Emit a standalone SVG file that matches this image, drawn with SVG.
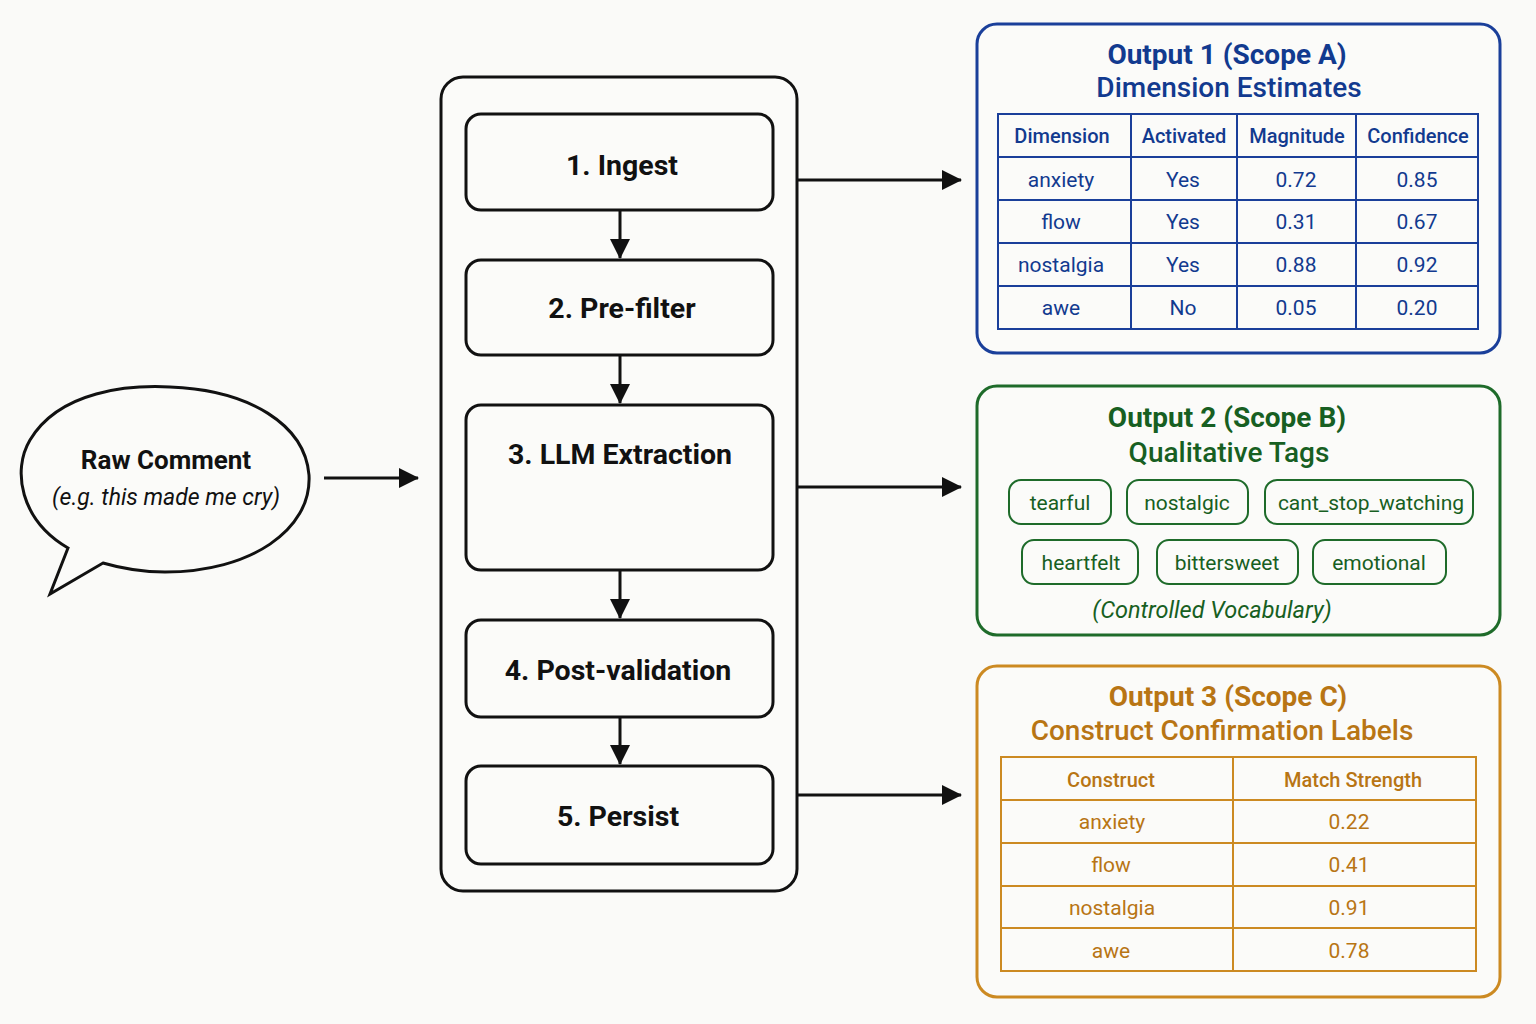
<svg xmlns="http://www.w3.org/2000/svg" width="1536" height="1024" viewBox="0 0 1536 1024">
<defs>
<marker id="ahL" markerWidth="20" markerHeight="20" refX="19" refY="10" orient="auto" markerUnits="userSpaceOnUse" viewBox="0 0 20 20">
<path d="M0,0 L20,10 L0,20 z" fill="#111"/>
</marker>
</defs>
<style>
text{font-family:Roboto,"Liberation Sans",Arial,sans-serif;text-anchor:middle;dominant-baseline:central}
.step{fill:#fbfbf9;stroke:#111;stroke-width:3}
.stepT{font-size:28.5px;font-weight:bold;fill:#111}
.conn{stroke:#111;stroke-width:3;fill:none}
.blue{fill:#fbfbf9;stroke:#1a3f9a;stroke-width:3}
.blueT{fill:#123a8f}
.green{fill:#fbfbf9;stroke:#1e6b2a;stroke-width:3}
.greenT{fill:#175f22}
.orange{fill:#fbfbf9;stroke:#cc8a22;stroke-width:3}
.orangeT{fill:#b87514}
.title{font-size:28px;font-weight:bold}
.sub{font-size:28px;font-weight:500}
.th{font-size:20px;font-weight:500}
.td{font-size:21px}
.tag{fill:none;stroke:#1e6b2a;stroke-width:2}
.tagT{font-size:21px;fill:#175f22}
</style>
<rect width="1536" height="1024" fill="#fafaf8"/>

<g id="raw-comment">
<path d="M68,548 C20,520 12,470 30,440 C60,390 130,385 170,387 C250,390 305,425 309,475 C312,530 250,572 165,572 C140,572 120,568 103,563 L50,594 Z" fill="#fbfbf9" stroke="#111" stroke-width="3" stroke-linejoin="miter"/>
<text x="166" y="460" font-size="26" font-weight="bold" fill="#111">Raw Comment</text>
<text x="166" y="497" font-size="23" font-style="italic" fill="#111">(e.g. this made me cry)</text>
</g>

<g id="pipeline">
<rect x="441" y="77" width="356" height="814" rx="22" fill="#fbfbf9" stroke="#111" stroke-width="3"/>
</g>
<g id="step1"><rect class="step" x="466" y="114" width="307" height="96" rx="15"/><text class="stepT" x="622" y="165">1. Ingest</text></g>
<g id="step2"><rect class="step" x="466" y="260" width="307" height="95" rx="15"/><text class="stepT" x="622" y="308">2. Pre-filter</text></g>
<g id="step3"><rect class="step" x="466" y="405" width="307" height="165" rx="15"/><text class="stepT" x="620" y="454">3. LLM Extraction</text></g>
<g id="step4"><rect class="step" x="466" y="620" width="307" height="97" rx="15"/><text class="stepT" x="618" y="670">4. Post-validation</text></g>
<g id="step5"><rect class="step" x="466" y="766" width="307" height="98" rx="15"/><text class="stepT" x="618" y="816">5. Persist</text></g>

<g id="connectors">
<line class="conn" x1="324" y1="478" x2="418" y2="478" marker-end="url(#ahL)"/>
<line class="conn" x1="620" y1="210" x2="620" y2="258" marker-end="url(#ahL)"/>
<line class="conn" x1="620" y1="355" x2="620" y2="403" marker-end="url(#ahL)"/>
<line class="conn" x1="620" y1="570" x2="620" y2="618" marker-end="url(#ahL)"/>
<line class="conn" x1="620" y1="717" x2="620" y2="764" marker-end="url(#ahL)"/>
<line class="conn" x1="797" y1="180" x2="961" y2="180" marker-end="url(#ahL)"/>
<line class="conn" x1="797" y1="487" x2="961" y2="487" marker-end="url(#ahL)"/>
<line class="conn" x1="797" y1="795" x2="961" y2="795" marker-end="url(#ahL)"/>
</g>

<g id="output1">
<rect class="blue" x="977" y="24" width="523" height="329" rx="20"/>
<text class="title blueT" x="1227" y="54">Output 1 (Scope A)</text>
<text class="sub blueT" x="1229" y="87">Dimension Estimates</text>
<g fill="none" stroke="#1a3f9a" stroke-width="2">
<rect x="998" y="114" width="480" height="215"/>
<line x1="1131" y1="114" x2="1131" y2="329"/>
<line x1="1237" y1="114" x2="1237" y2="329"/>
<line x1="1356" y1="114" x2="1356" y2="329"/>
<line x1="998" y1="157" x2="1478" y2="157"/>
<line x1="998" y1="200" x2="1478" y2="200"/>
<line x1="998" y1="243" x2="1478" y2="243"/>
<line x1="998" y1="286" x2="1478" y2="286"/>
</g>
<g class="blueT">
<text class="th" x="1062" y="136">Dimension</text>
<text class="th" x="1184" y="136">Activated</text>
<text class="th" x="1297" y="136">Magnitude</text>
<text class="th" x="1418" y="136">Confidence</text>
<text class="td" x="1061" y="180">anxiety</text><text class="td" x="1183" y="180">Yes</text><text class="td" x="1296" y="180">0.72</text><text class="td" x="1417" y="180">0.85</text>
<text class="td" x="1061" y="222">flow</text><text class="td" x="1183" y="222">Yes</text><text class="td" x="1296" y="222">0.31</text><text class="td" x="1417" y="222">0.67</text>
<text class="td" x="1061" y="265">nostalgia</text><text class="td" x="1183" y="265">Yes</text><text class="td" x="1296" y="265">0.88</text><text class="td" x="1417" y="265">0.92</text>
<text class="td" x="1061" y="308">awe</text><text class="td" x="1183" y="308">No</text><text class="td" x="1296" y="308">0.05</text><text class="td" x="1417" y="308">0.20</text>
</g>
</g>

<g id="output2">
<rect class="green" x="977" y="386" width="523" height="249" rx="20"/>
<text class="title greenT" x="1227" y="417">Output 2 (Scope B)</text>
<text class="sub greenT" x="1229" y="452">Qualitative Tags</text>
<rect class="tag" x="1009" y="480" width="102" height="44" rx="12"/><text class="tagT" x="1060" y="503">tearful</text>
<rect class="tag" x="1127" y="480" width="121" height="44" rx="12"/><text class="tagT" x="1187" y="503">nostalgic</text>
<rect class="tag" x="1265" y="480" width="208" height="44" rx="12"/><text class="tagT" x="1371" y="503">cant_stop_watching</text>
<rect class="tag" x="1022" y="540" width="116" height="44" rx="12"/><text class="tagT" x="1081" y="563">heartfelt</text>
<rect class="tag" x="1157" y="540" width="141" height="44" rx="12"/><text class="tagT" x="1227" y="563">bittersweet</text>
<rect class="tag" x="1313" y="540" width="133" height="44" rx="12"/><text class="tagT" x="1379" y="563">emotional</text>
<text class="greenT" x="1212" y="610" font-size="23.5" font-style="italic">(Controlled Vocabulary)</text>
</g>

<g id="output3">
<rect class="orange" x="977" y="666" width="523" height="331" rx="20"/>
<text class="title orangeT" x="1228" y="696">Output 3 (Scope C)</text>
<text class="sub orangeT" x="1222" y="730">Construct Confirmation Labels</text>
<g fill="none" stroke="#cc8a22" stroke-width="2">
<rect x="1001" y="757" width="475" height="214"/>
<line x1="1233" y1="757" x2="1233" y2="971"/>
<line x1="1001" y1="800" x2="1476" y2="800"/>
<line x1="1001" y1="843" x2="1476" y2="843"/>
<line x1="1001" y1="886" x2="1476" y2="886"/>
<line x1="1001" y1="928" x2="1476" y2="928"/>
</g>
<g class="orangeT">
<text class="th" x="1111" y="780">Construct</text>
<text class="th" x="1353" y="780">Match Strength</text>
<text class="td" x="1112" y="822">anxiety</text><text class="td" x="1349" y="822">0.22</text>
<text class="td" x="1111" y="865">flow</text><text class="td" x="1349" y="865">0.41</text>
<text class="td" x="1112" y="908">nostalgia</text><text class="td" x="1349" y="908">0.91</text>
<text class="td" x="1111" y="951">awe</text><text class="td" x="1349" y="951">0.78</text>
</g>
</g>
</svg>
